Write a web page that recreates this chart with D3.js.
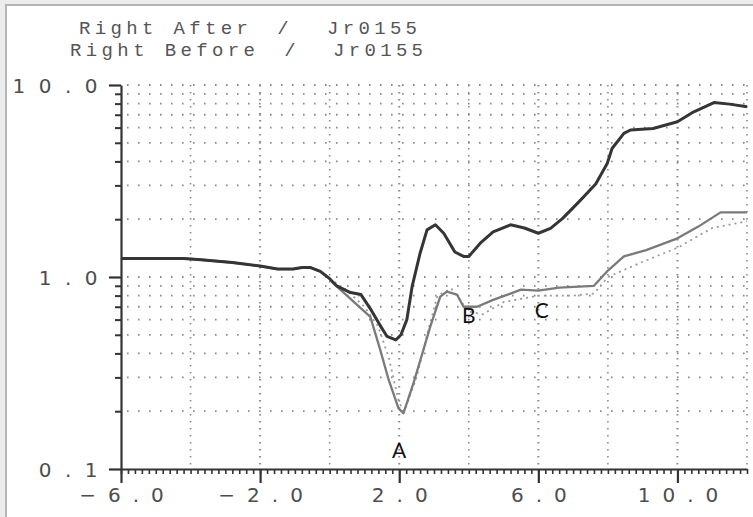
<!DOCTYPE html>
<html>
<head>
<meta charset="utf-8">
<script src="https://cdn.jsdelivr.net/npm/d3@7"></script>
<style>
  body { margin: 0; background: #ececec; }
  svg { display: block; }
</style>
</head>
<body>
<svg id="chart" width="753" height="517"></svg>
<script>
const width = 753, height = 517;
const marginLeft = 121, marginRight = 6, marginTop = 85, marginBottom = 48;

// Right After (dark curve)
const afterX = [-6, -4.2, -3.7, -2.8, -2, -1.5, -1.05, -0.8, -0.55, -0.27, 0, 0.2, 0.6, 0.9, 1.2, 1.45, 1.65, 1.9, 2.05, 2.22, 2.37, 2.6, 2.8, 3.04, 3.28, 3.6, 3.85, 4.0, 4.33, 4.7, 5.2, 5.6, 6.0, 6.35, 6.7, 7.2, 7.65, 7.98, 8.12, 8.46, 8.65, 9.3, 10.0, 10.47, 11.05, 11.5, 12.0];
const afterY = [1.25, 1.25, 1.23, 1.19, 1.14, 1.1, 1.1, 1.12, 1.12, 1.07, 0.98, 0.9, 0.83, 0.81, 0.67, 0.56, 0.49, 0.47, 0.5, 0.6, 0.89, 1.33, 1.76, 1.87, 1.69, 1.35, 1.28, 1.28, 1.5, 1.72, 1.87, 1.8, 1.69, 1.79, 2.02, 2.5, 3.05, 3.9, 4.67, 5.6, 5.83, 5.94, 6.44, 7.25, 8.1, 7.95, 7.7];

// Right Before (grey curve)
const beforeX = [-6, -4.2, -3.7, -2.8, -2, -1.5, -1.05, -0.8, -0.55, -0.27, 0, 0.1, 0.6, 1.17, 1.45, 1.7, 1.98, 2.12, 2.41, 2.7, 2.89, 3.18, 3.37, 3.66, 3.85, 4.24, 4.7, 5.2, 5.5, 6.0, 6.6, 7.6, 8.0, 8.46, 9.1, 10.0, 10.6, 11.24, 12.0];
const beforeY = [1.25, 1.25, 1.23, 1.19, 1.14, 1.1, 1.1, 1.12, 1.12, 1.07, 0.98, 0.93, 0.77, 0.62, 0.42, 0.29, 0.207, 0.195, 0.28, 0.42, 0.55, 0.79, 0.84, 0.81, 0.7, 0.7, 0.76, 0.82, 0.86, 0.85, 0.88, 0.9, 1.08, 1.28, 1.38, 1.59, 1.83, 2.17, 2.17];

// dotted companion trace
const dottedX = [0, 0.5, 1.0, 1.4, 1.7, 2.0, 2.15, 2.5, 2.8, 3.1, 3.5, 4.0, 4.4, 5.0, 6.0, 7.0, 7.6, 8.0, 9.0, 10.0, 11.0, 12.0];
const dottedY = [0.98, 0.85, 0.7, 0.55, 0.38, 0.22, 0.2, 0.3, 0.5, 0.8, 0.87, 0.66, 0.64, 0.74, 0.8, 0.8, 0.82, 1.0, 1.2, 1.42, 1.8, 1.95];

const xMajorTicks = [-6, -2, 2, 6, 10];
const yMajorTicks = [0.1, 1, 10];
const titleLines = ["Right After", "Right Before"];
const titleIds = ["Jr0155", "Jr0155"];
const pointLabels = ["A", "B", "C"];
const pointLabelX = [2.0, 4.0, 6.1];
const pointLabelY = [0.125, 0.63, 0.665];

const svg = d3.select("#chart");

// page frame
svg.append("rect").attr("x", 0).attr("y", 0).attr("width", width).attr("height", height).attr("fill", "#ececec");
svg.append("rect").attr("x", 6).attr("y", 5).attr("width", width - 6).attr("height", height - 5).attr("fill", "#fff");
svg.append("path").attr("d", `M6,${height}V5H${width}`).attr("fill", "none").attr("stroke", "#b5b5b5").attr("stroke-width", 2);

const x = d3.scaleLinear().domain([-6, 12]).range([marginLeft, width - marginRight]);
const y = d3.scaleLog().domain([0.1, 10]).range([height - marginBottom, marginTop]);

// grid
const yGrid = d3.range(1, 10).map(k => k * 0.1).concat(d3.range(1, 11));
svg.append("g")
  .selectAll("line").data(yGrid.slice(1)).join("line")
    .attr("x1", x(-6) + 6).attr("x2", x(12))
    .attr("y1", d => y(d)).attr("y2", d => y(d))
    .attr("stroke", "#8a8a8a").attr("stroke-width", 1.8)
    .attr("stroke-dasharray", "1.6,9.4");

const xGrid = d3.range(-4, 12.01, 2);
svg.append("g")
  .selectAll("line").data(xGrid).join("line")
    .attr("x1", d => x(d)).attr("x2", d => x(d))
    .attr("y1", y(10)).attr("y2", y(0.1) - 4)
    .attr("stroke", "#8a8a8a").attr("stroke-width", d => (d + 6) % 4 === 0 ? 2 : 1.6)
    .attr("stroke-dasharray", "1.6,5.4");

// curves
const line = d3.line()
  .x(d => x(d[0]))
  .y(d => y(d[1]));

svg.append("path")
  .attr("fill", "none")
  .attr("stroke", "#9a9a9a")
  .attr("stroke-width", 1.8)
  .attr("stroke-dasharray", "2,4")
  .attr("d", line(d3.zip(dottedX, dottedY)));

svg.append("path")
  .attr("fill", "none")
  .attr("stroke", "#7a7a7a")
  .attr("stroke-width", 2.3)
  .attr("stroke-linejoin", "round")
  .attr("d", line(d3.zip(beforeX, beforeY)));

svg.append("path")
  .attr("fill", "none")
  .attr("stroke", "#353535")
  .attr("stroke-width", 3)
  .attr("stroke-linejoin", "round")
  .attr("d", line(d3.zip(afterX, afterY)));

// x axis
const fmt = d3.format(".1f");
svg.append("g")
  .attr("transform", `translate(0,${y(0.1)})`)
  .call(d3.axisBottom(x).tickValues(d3.range(-6, 12.01, 0.2)).tickSize(5).tickFormat(""))
  .call(g => g.select(".domain").remove())
  .call(g => g.selectAll(".tick line").attr("stroke", "#333").attr("stroke-width", 1.6));

svg.append("g")
  .attr("transform", `translate(0,${y(0.1)})`)
  .call(d3.axisBottom(x).tickValues(xMajorTicks).tickSize(14).tickSizeOuter(0).tickFormat(fmt))
  .call(g => g.select(".domain").attr("stroke", "#333").attr("stroke-width", 2.2))
  .call(g => g.selectAll(".tick line").attr("stroke", "#333").attr("stroke-width", 2.2))
  .call(g => g.selectAll(".tick text")
    .attr("y", 33).attr("dy", 0).attr("dx", 6)
    .attr("fill", "#4d4d4d")
    .style("font-family", "DejaVu Sans")
    .style("font-size", "20px")
    .style("letter-spacing", "12px"));

// y axis
const yMinor = yGrid.filter(d => !yMajorTicks.some(m => Math.abs(m - d) < 1e-9));
svg.append("g")
  .attr("transform", `translate(${x(-6)},0)`)
  .call(d3.axisLeft(y).tickValues(yMinor).tickSize(6).tickFormat(""))
  .call(g => g.select(".domain").remove())
  .call(g => g.selectAll(".tick line").attr("stroke", "#333").attr("stroke-width", 2));

svg.append("g")
  .attr("transform", `translate(${x(-6)},0)`)
  .call(d3.axisLeft(y).tickValues(yMajorTicks).tickSize(12).tickSizeOuter(0).tickFormat(fmt))
  .call(g => g.select(".domain").attr("stroke", "#333").attr("stroke-width", 2.2))
  .call(g => g.selectAll(".tick text")
    .attr("x", -10).attr("dy", "0.36em")
    .attr("fill", "#4d4d4d")
    .style("font-family", "DejaVu Sans")
    .style("font-size", "20px")
    .style("letter-spacing", "13.5px"))
  .call(g => g.selectAll(".tick line").attr("stroke", "#333").attr("stroke-width", 2.2));

// title
const title = svg.append("g")
  .style("font-family", "'Liberation Mono', monospace")
  .style("font-size", "19px")
  .attr("fill", "#555");

const nameWidths = [169, 185];
titleLines.forEach((t, i) => {
  const base = 34 + i * 22;
  title.append("text").attr("x", 79 - i * 9).attr("y", base)
    .attr("textLength", nameWidths[i]).attr("lengthAdjust", "spacing").text(t);
  title.append("text").attr("x", 283 + i * 7).attr("y", base).attr("text-anchor", "middle").text("/");
  title.append("text").attr("x", 327 + i * 6).attr("y", base)
    .attr("textLength", 90).attr("lengthAdjust", "spacing").text(titleIds[i]);
});

// point labels
svg.append("g")
  .selectAll("text").data(pointLabels).join("text")
    .attr("x", (d, i) => x(pointLabelX[i]))
    .attr("y", (d, i) => y(pointLabelY[i]))
    .attr("text-anchor", "middle")
    .attr("dy", "0.35em")
    .attr("fill", "#111")
    .style("font-family", "Lato, 'Open Sans', sans-serif")
    .style("font-size", "21px")
    .text(d => d);
</script>
</body>
</html>
